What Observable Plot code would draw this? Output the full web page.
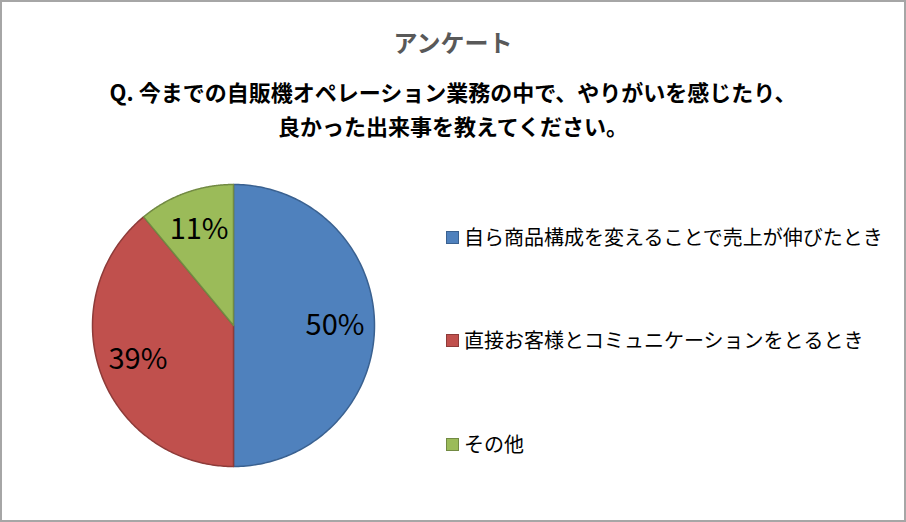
<!DOCTYPE html>
<html>
<head>
<meta charset="utf-8">
<script src="https://cdn.jsdelivr.net/npm/d3@7"></script>
<script src="https://cdn.jsdelivr.net/npm/@observablehq/plot@0.6"></script>
<style>
  html, body { margin: 0; padding: 0; background: #fff; }
  #chart {
    position: relative; width: 906px; height: 522px; box-sizing: border-box;
    border: 2px solid #A6A6A6; background: #fff; overflow: hidden;
    font-family: "Noto Sans CJK JP", "Noto Sans", sans-serif;
  }
  #title {
    position: absolute; left: 0; width: 902px; top: 25px; line-height: 30px;
    text-align: center; font-size: 24px; font-weight: bold; color: #595959;
  }
  #subtitle {
    position: absolute; left: 0; width: 902px; top: 72px; line-height: 34px;
    text-align: center; font-size: 22px; font-weight: bold; color: #000;
  }
  #pie { position: absolute; left: 79px; top: 171px; }
  .legend-item {
    position: absolute; left: 444px; height: 26px; line-height: 26px;
    font-size: 20px; color: #000; white-space: nowrap;
  }
  .legend-item .sw {
    display: inline-block; width: 11px; height: 11px; border: 1.5px solid;
    vertical-align: middle; margin-right: 5px; position: relative; top: -2px;
  }
</style>
</head>
<body>
<div id="chart">
  <div id="title"></div>
  <div id="subtitle"></div>
  <div id="pie"></div>
</div>
<script>
const titleText = "アンケート";
const subtitleLines = ["Q. 今までの自販機オペレーション業務の中で、やりがいを感じたり、", "良かった出来事を教えてください。"];
const categories = ["自ら商品構成を変えることで売上が伸びたとき", "直接お客様とコミュニケーションをとるとき", "その他"];
const values = [50, 39, 11];
const valueLabels = ["50%", "39%", "11%"];
const sliceColors = ["#4F81BD", "#C0504D", "#9BBB59"];
const edgeColors = ["#3A6190", "#8E3B39", "#728A43"];

document.getElementById("title").textContent = titleText;
document.getElementById("subtitle").innerHTML = subtitleLines.map(s => `<div>${s}</div>`).join("");

const rows = categories.map((c, i) => ({cat: c, value: values[i], label: valueLabels[i]}));
const arcs = d3.pie().sort(null).value(d => d.value)(rows);

// polygon outline for each slice (unit radius, y up)
const N = 180;
const slicePts = arcs.map(a => {
  const pts = [{cat: a.data.cat, x: 0, y: 0}];
  for (let k = 0; k <= N; k++) {
    const t = a.startAngle + (a.endAngle - a.startAngle) * k / N;
    pts.push({cat: a.data.cat, x: Math.sin(t), y: Math.cos(t)});
  }
  pts.push({cat: a.data.cat, x: 0, y: 0});
  return pts;
});

const labelR = 0.72;
const labelPts = arcs.map(a => {
  const m = (a.startAngle + a.endAngle) / 2;
  return {label: a.data.label, x: labelR * Math.sin(m), y: labelR * Math.cos(m)};
});

const R = 141, half = 152;
const ext = half / R;

const plot = Plot.plot({
  width: 2 * half, height: 2 * half,
  margin: 0,
  x: {domain: [-ext, ext], axis: null},
  y: {domain: [-ext, ext], axis: null},
  color: {domain: categories, range: sliceColors},
  style: {background: "transparent", overflow: "visible"},
  marks: [
    ...slicePts.map((pts, i) => Plot.line(pts, {
      x: "x", y: "y", fill: "cat", stroke: edgeColors[i], strokeWidth: 1.5, curve: "linear"
    })),
    Plot.text(labelPts, {
      x: "x", y: "y", text: "label", fontSize: 29, fill: "#000",
      fontFamily: "'Noto Sans CJK JP', sans-serif"
    })
  ]
});
document.getElementById("pie").appendChild(plot);

const legendY = [222, 325, 429];
const chart = document.getElementById("chart");
categories.forEach((c, i) => {
  const item = document.createElement("div");
  item.className = "legend-item";
  item.style.top = legendY[i] + "px";
  item.innerHTML = `<span class="sw" style="background:${sliceColors[i]};border-color:${edgeColors[i]}"></span>${c}`;
  chart.appendChild(item);
});
</script>
</body>
</html>
